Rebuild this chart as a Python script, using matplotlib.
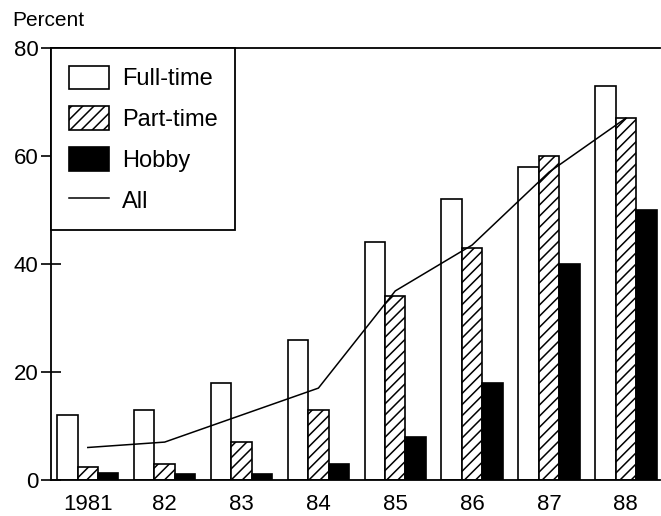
import numpy as np
import matplotlib
matplotlib.use("Agg")
import matplotlib.pyplot as plt

plt.rcParams['font.family'] = ['Liberation Sans', 'DejaVu Sans']
plt.rcParams['hatch.linewidth'] = 1.1

# values (percent)
years = ['1981', '82', '83', '84', '85', '86', '87', '88']
full_time = [12, 13, 18, 26, 44, 52, 58, 73]
part_time = [2.3, 3, 7, 13, 34, 43, 60, 67]
hobby = [1.2, 1, 1, 3, 8, 18, 40, 50]
all_farms = [6, 7, 12, 17, 35, 43.5, 57, 67]

x = np.arange(len(years))
w = 0.266

fig = plt.figure(figsize=(6.61, 5.16), dpi=100)
ax = fig.add_axes([0.077, 0.07, 0.921, 0.837])

b1 = ax.bar(x - w, full_time, w, color='white', edgecolor='black', linewidth=1.2, label='Full-time')
b2 = ax.bar(x, part_time, w, color='white', edgecolor='black', linewidth=1.2, hatch='///', label='Part-time')
b3 = ax.bar(x + w, hobby, w, color='black', edgecolor='black', linewidth=1.2, label='Hobby')
l1, = ax.plot(x, all_farms, color='black', linewidth=1.1, label='All')

ax.set_xlim(-0.48, 7.44)
ax.set_ylim(0, 80)
ax.set_yticks([0, 20, 40, 60, 80])
ax.set_xticks(x)
ax.set_xticklabels(years)
ax.tick_params(axis='x', length=0, pad=10, labelsize=16)
ax.tick_params(axis='y', direction='inout', length=14, width=1.2, pad=2, labelsize=16)

for s in ['left', 'top', 'bottom']:
    ax.spines[s].set_linewidth(1.3)
ax.spines['right'].set_visible(False)

fig.text(0.018, 0.96, 'Percent', fontsize=15, va='center', ha='left')

leg = ax.legend([b1, b2, b3, l1], ['Full-time', 'Part-time', 'Hobby', 'All'],
                loc='upper left', borderaxespad=0, fancybox=False, fontsize=17,
                handlelength=1.7, handleheight=1.15, labelspacing=0.68,
                handletextpad=0.55, borderpad=0.75, framealpha=1)
leg.get_frame().set_edgecolor('black')
leg.get_frame().set_linewidth(1.3)

fig.savefig('out.png', dpi=100)
